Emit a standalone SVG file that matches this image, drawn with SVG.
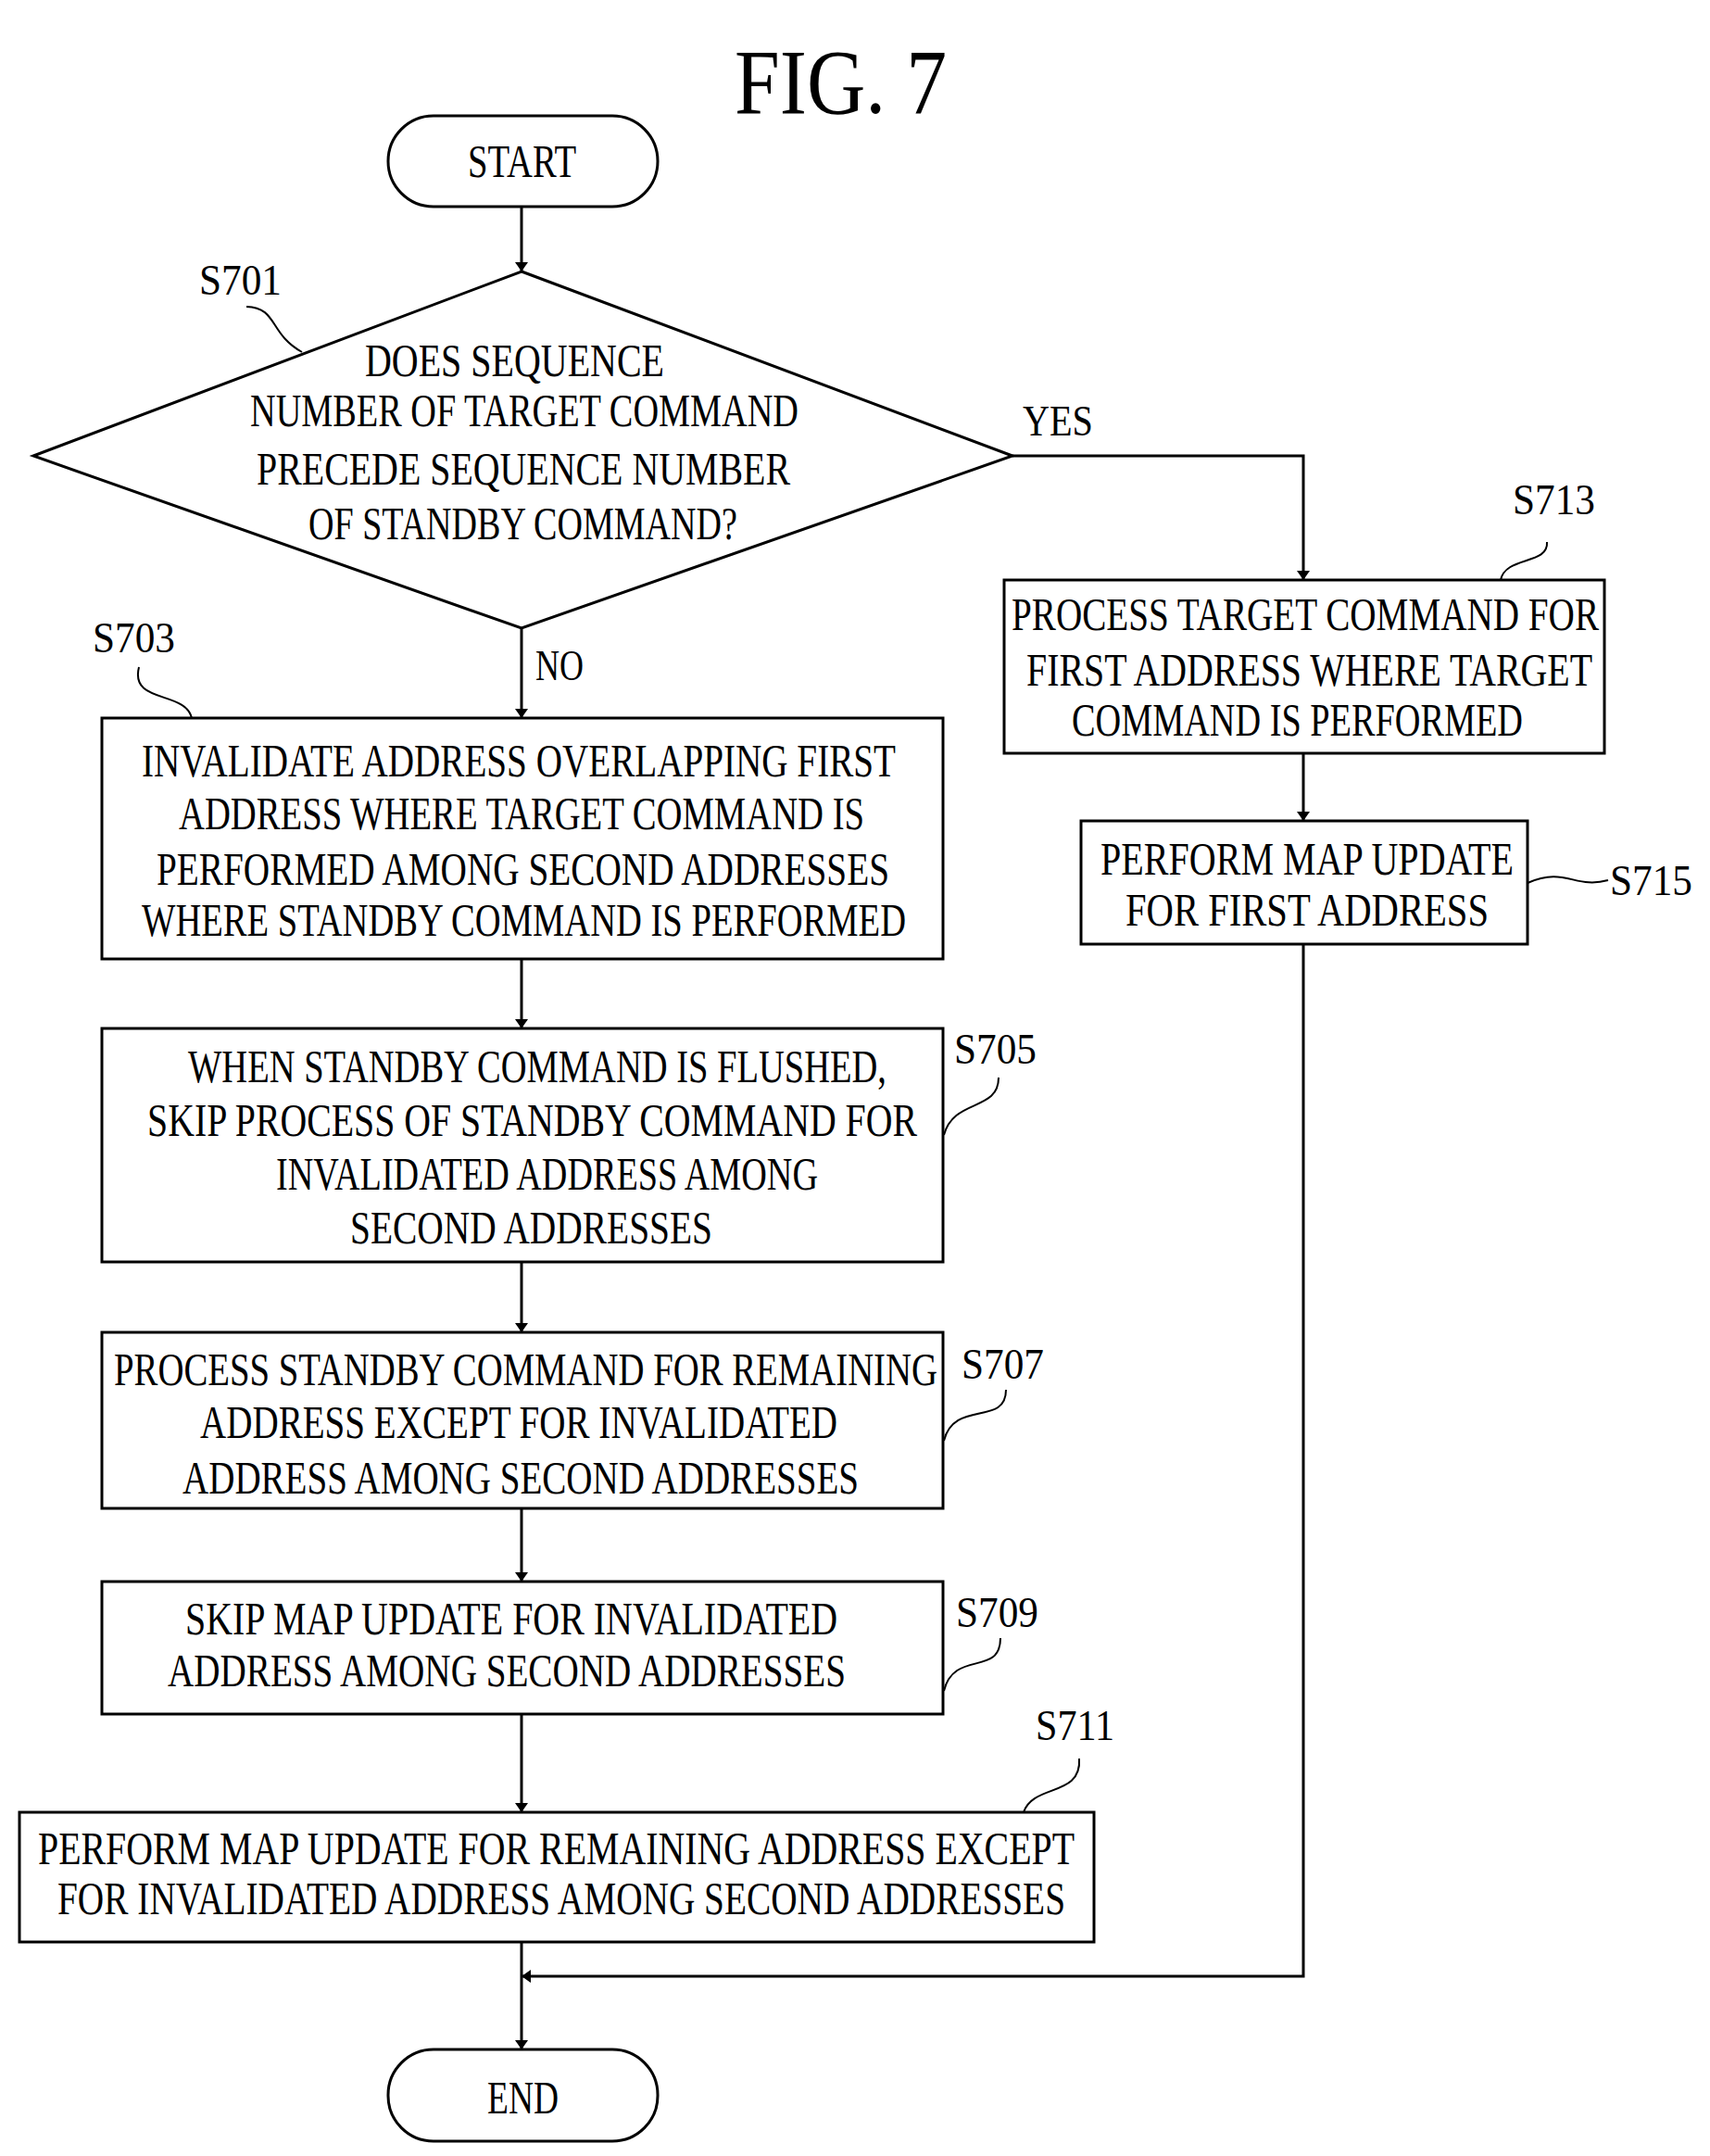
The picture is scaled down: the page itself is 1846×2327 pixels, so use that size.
<svg xmlns="http://www.w3.org/2000/svg" width="1846" height="2327" viewBox="0 0 1846 2327">
<style>
.t{font-family:"Liberation Serif",serif;font-size:50px;fill:#000}
.l{font-family:"Liberation Serif",serif;font-size:46px;fill:#000}
.s{fill:#fff;stroke:#000;stroke-width:3}
.c{fill:none;stroke:#000;stroke-width:3}
.w{fill:none;stroke:#000;stroke-width:2}
</style>
<defs><marker id="a" viewBox="0 0 10 20" refX="10" refY="10" markerWidth="10" markerHeight="20" markerUnits="userSpaceOnUse" orient="auto"><path d="M0,3 L10,10 L0,17 z" fill="#000"/></marker></defs>
<rect width="1846" height="2327" fill="#fff"/>
<text class="t" x="793" y="122" style="font-size:100px" textLength="229" lengthAdjust="spacingAndGlyphs">FIG. 7</text>
<g id="connectors">
<line class="c" x1="563" y1="223" x2="563" y2="293" marker-end="url(#a)"/>
<polyline class="c" points="1093,492 1407,492 1407,626" marker-end="url(#a)"/>
<line class="c" x1="563" y1="678" x2="563" y2="775" marker-end="url(#a)"/>
<line class="c" x1="1407" y1="813" x2="1407" y2="886" marker-end="url(#a)"/>
<line class="c" x1="563" y1="1035" x2="563" y2="1110" marker-end="url(#a)"/>
<line class="c" x1="563" y1="1362" x2="563" y2="1438" marker-end="url(#a)"/>
<line class="c" x1="563" y1="1628" x2="563" y2="1707" marker-end="url(#a)"/>
<line class="c" x1="563" y1="1850" x2="563" y2="1956" marker-end="url(#a)"/>
<polyline class="c" points="1407,1019 1407,2133 563,2133" marker-end="url(#a)"/>
<line class="c" x1="563" y1="2096" x2="563" y2="2212" marker-end="url(#a)"/>
<text class="l" x="1104" y="470" textLength="76" lengthAdjust="spacingAndGlyphs">YES</text>
<text class="l" x="578" y="734" textLength="52" lengthAdjust="spacingAndGlyphs">NO</text>
</g>
<g id="start"><rect class="s" x="419" y="125" width="291" height="98" rx="49"/><text class="t" x="505" y="191" textLength="117" lengthAdjust="spacingAndGlyphs">START</text></g>
<g id="S701">
<polygon class="s" points="563,293 1093,492 563,678 36,492"/>
<text class="t" x="394" y="406" textLength="323" lengthAdjust="spacingAndGlyphs">DOES SEQUENCE</text>
<text class="t" x="270" y="460" textLength="592" lengthAdjust="spacingAndGlyphs">NUMBER OF TARGET COMMAND</text>
<text class="t" x="277" y="523" textLength="576" lengthAdjust="spacingAndGlyphs">PRECEDE SEQUENCE NUMBER</text>
<text class="t" x="333" y="582" textLength="463" lengthAdjust="spacingAndGlyphs">OF STANDBY COMMAND?</text>
<text class="l" x="215" y="318" textLength="89" lengthAdjust="spacingAndGlyphs">S701</text>
<path class="w" d="M266,331 C300,332 290,360 326,380"/>
</g>
<g id="S713">
<rect class="s" x="1084" y="626" width="648" height="187"/>
<text class="t" x="1092" y="680" textLength="634" lengthAdjust="spacingAndGlyphs">PROCESS TARGET COMMAND FOR</text>
<text class="t" x="1108" y="740" textLength="611" lengthAdjust="spacingAndGlyphs">FIRST ADDRESS WHERE TARGET</text>
<text class="t" x="1157" y="794" textLength="487" lengthAdjust="spacingAndGlyphs">COMMAND IS PERFORMED</text>
<text class="l" x="1633" y="555" textLength="89" lengthAdjust="spacingAndGlyphs">S713</text>
<path class="w" d="M1670,585 C1672,610 1625,600 1620,626"/>
</g>
<g id="S715">
<rect class="s" x="1167" y="886" width="482" height="133"/>
<text class="t" x="1188" y="944" textLength="446" lengthAdjust="spacingAndGlyphs">PERFORM MAP UPDATE</text>
<text class="t" x="1215" y="999" textLength="392" lengthAdjust="spacingAndGlyphs">FOR FIRST ADDRESS</text>
<text class="l" x="1738" y="966" textLength="89" lengthAdjust="spacingAndGlyphs">S715</text>
<path class="w" d="M1649,953 C1690,935 1700,960 1736,950"/>
</g>
<g id="S703">
<rect class="s" x="110" y="775" width="908" height="260"/>
<text class="t" x="153" y="838" textLength="814" lengthAdjust="spacingAndGlyphs">INVALIDATE ADDRESS OVERLAPPING FIRST</text>
<text class="t" x="193" y="895" textLength="740" lengthAdjust="spacingAndGlyphs">ADDRESS WHERE TARGET COMMAND IS</text>
<text class="t" x="169" y="955" textLength="791" lengthAdjust="spacingAndGlyphs">PERFORMED AMONG SECOND ADDRESSES</text>
<text class="t" x="153" y="1010" textLength="825" lengthAdjust="spacingAndGlyphs">WHERE STANDBY COMMAND IS PERFORMED</text>
<text class="l" x="100" y="704" textLength="89" lengthAdjust="spacingAndGlyphs">S703</text>
<path class="w" d="M150,720 C140,760 200,745 207,775"/>
</g>
<g id="S705">
<rect class="s" x="110" y="1110" width="908" height="252"/>
<text class="t" x="203" y="1168" textLength="754" lengthAdjust="spacingAndGlyphs">WHEN STANDBY COMMAND IS FLUSHED,</text>
<text class="t" x="159" y="1226" textLength="831" lengthAdjust="spacingAndGlyphs">SKIP PROCESS OF STANDBY COMMAND FOR</text>
<text class="t" x="298" y="1284" textLength="585" lengthAdjust="spacingAndGlyphs">INVALIDATED ADDRESS AMONG</text>
<text class="t" x="378" y="1342" textLength="391" lengthAdjust="spacingAndGlyphs">SECOND ADDRESSES</text>
<text class="l" x="1030" y="1148" textLength="89" lengthAdjust="spacingAndGlyphs">S705</text>
<path class="w" d="M1078,1163 C1078,1200 1030,1185 1019,1225"/>
</g>
<g id="S707">
<rect class="s" x="110" y="1438" width="908" height="190"/>
<text class="t" x="123" y="1495" textLength="889" lengthAdjust="spacingAndGlyphs">PROCESS STANDBY COMMAND FOR REMAINING</text>
<text class="t" x="216" y="1552" textLength="688" lengthAdjust="spacingAndGlyphs">ADDRESS EXCEPT FOR INVALIDATED</text>
<text class="t" x="197" y="1612" textLength="730" lengthAdjust="spacingAndGlyphs">ADDRESS AMONG SECOND ADDRESSES</text>
<text class="l" x="1038" y="1488" textLength="89" lengthAdjust="spacingAndGlyphs">S707</text>
<path class="w" d="M1086,1500 C1086,1540 1030,1510 1019,1555"/>
</g>
<g id="S709">
<rect class="s" x="110" y="1707" width="908" height="143"/>
<text class="t" x="200" y="1764" textLength="704" lengthAdjust="spacingAndGlyphs">SKIP MAP UPDATE FOR INVALIDATED</text>
<text class="t" x="181" y="1820" textLength="732" lengthAdjust="spacingAndGlyphs">ADDRESS AMONG SECOND ADDRESSES</text>
<text class="l" x="1032" y="1756" textLength="89" lengthAdjust="spacingAndGlyphs">S709</text>
<path class="w" d="M1080,1768 C1080,1810 1030,1780 1019,1825"/>
</g>
<g id="S711">
<rect class="s" x="21" y="1956" width="1160" height="140"/>
<text class="t" x="41" y="2012" textLength="1119" lengthAdjust="spacingAndGlyphs">PERFORM MAP UPDATE FOR REMAINING ADDRESS EXCEPT</text>
<text class="t" x="62" y="2066" textLength="1088" lengthAdjust="spacingAndGlyphs">FOR INVALIDATED ADDRESS AMONG SECOND ADDRESSES</text>
<text class="l" x="1118" y="1878" textLength="85" lengthAdjust="spacingAndGlyphs">S711</text>
<path class="w" d="M1165,1898 C1168,1940 1115,1925 1105,1956"/>
</g>
<g id="end"><rect class="s" x="419" y="2212" width="291" height="99" rx="49"/><text class="t" x="526" y="2281" textLength="77" lengthAdjust="spacingAndGlyphs">END</text></g>
</svg>
